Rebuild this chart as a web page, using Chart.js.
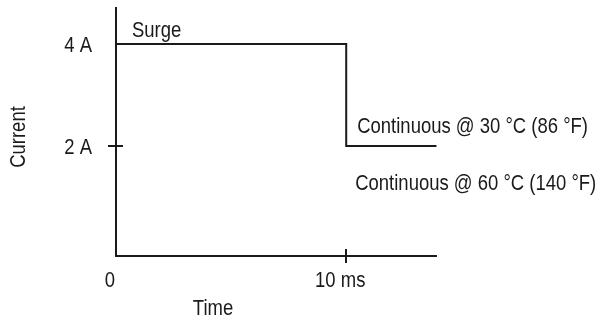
<!DOCTYPE html>
<html>
<head>
<meta charset="utf-8">
<script src="https://cdn.jsdelivr.net/npm/chart.js@4/dist/chart.umd.min.js"></script>
<style>
  html, body { margin: 0; padding: 0; background: #ffffff; }
  #wrap { width: 600px; height: 320px; }
</style>
</head>
<body>
<div id="wrap"><canvas id="c" width="600" height="320"></canvas></div>
<script>
// ---- Data ----
const timeMs = [0, 10, 13.92];
const currentA = [4, 2, 2];

const timeTickValues = [0, 10];
const timeTickLabels = ['0', '10 ms'];
const timeTickMarks = [10];

const currentTickValues = [2, 4];
const currentTickLabels = ['2 A', '4 A'];
const currentTickMarks = [2];

const xTitle = 'Time';
const yTitle = 'Current';

const surgeLabel = 'Surge';
const cont30Label = 'Continuous @ 30 °C (86 °F)';
const cont60Label = 'Continuous @ 60 °C (140 °F)';

// ---- Styles ----
const INK = '#1a1a1a';
const FONT = '22px "Liberation Sans", Arial, sans-serif';
const SQUEEZE = 0.84;

function narrowText(ctx, text, x, y, align) {
  ctx.save();
  ctx.translate(x, y);
  ctx.scale(SQUEEZE, 1);
  ctx.textAlign = align;
  ctx.textBaseline = 'alphabetic';
  ctx.fillText(text, 0, 0);
  ctx.restore();
}

const labelsPlugin = {
  id: 'labelsPlugin',
  afterDraw(chart) {
    const ctx = chart.ctx;
    const xs = chart.scales.x, ys = chart.scales.y;
    const area = chart.chartArea;
    const x0 = xs.getPixelForValue(0);
    const yb = area.bottom;
    ctx.save();
    ctx.fillStyle = INK;
    ctx.strokeStyle = INK;
    ctx.lineWidth = 2;
    ctx.font = FONT;

    // tick marks crossing the axes
    currentTickMarks.forEach(v => {
      const y = Math.round(ys.getPixelForValue(v));
      ctx.beginPath(); ctx.moveTo(x0 - 8, y); ctx.lineTo(x0 + 7, y); ctx.stroke();
    });
    timeTickMarks.forEach(v => {
      const x = Math.round(xs.getPixelForValue(v));
      ctx.beginPath(); ctx.moveTo(x, yb - 7); ctx.lineTo(x, yb + 7); ctx.stroke();
    });

    // y tick labels
    currentTickValues.forEach((v, i) => {
      narrowText(ctx, currentTickLabels[i], x0 - 24, ys.getPixelForValue(v) + 8, 'right');
    });
    // x tick labels
    timeTickValues.forEach((v, i) => {
      narrowText(ctx, timeTickLabels[i], xs.getPixelForValue(v) - 6, yb + 31, 'center');
    });
    // axis titles
    narrowText(ctx, xTitle, x0 + 97, yb + 59, 'center');
    ctx.save();
    ctx.translate(25, (area.top + area.bottom) / 2 + 5);
    ctx.rotate(-Math.PI / 2);
    narrowText(ctx, yTitle, 0, 0, 'center');
    ctx.restore();

    // annotations
    narrowText(ctx, surgeLabel, x0 + 16, ys.getPixelForValue(4) - 7, 'left');
    const x10 = xs.getPixelForValue(10);
    narrowText(ctx, cont30Label, x10 + 11, ys.getPixelForValue(2) - 13, 'left');
    narrowText(ctx, cont60Label, x10 + 9, ys.getPixelForValue(2) + 44, 'left');
    ctx.restore();
  }
};

new Chart(document.getElementById('c'), {
  type: 'scatter',
  data: {
    datasets: [{
      data: timeMs.map((t, i) => ({ x: t, y: currentA[i] })),
      showLine: true,
      stepped: 'before',
      borderColor: INK,
      borderWidth: 2,
      pointRadius: 0,
      fill: false,
      clip: false
    }]
  },
  options: {
    responsive: false,
    animation: false,
    events: [],
    layout: { padding: { left: 116, right: 164, top: 8, bottom: 64 } },
    plugins: { legend: { display: false }, tooltip: { enabled: false } },
    scales: {
      x: {
        type: 'linear', min: 0, max: 13.9,
        grid: { display: false, drawTicks: false },
        border: { display: true, color: INK, width: 2 },
        ticks: { display: false }
      },
      y: {
        type: 'linear', min: -0.157, max: 4.706,
        grid: { display: false, drawTicks: false },
        border: { display: true, color: INK, width: 2 },
        ticks: { display: false }
      }
    }
  },
  plugins: [labelsPlugin]
});
</script>
</body>
</html>
